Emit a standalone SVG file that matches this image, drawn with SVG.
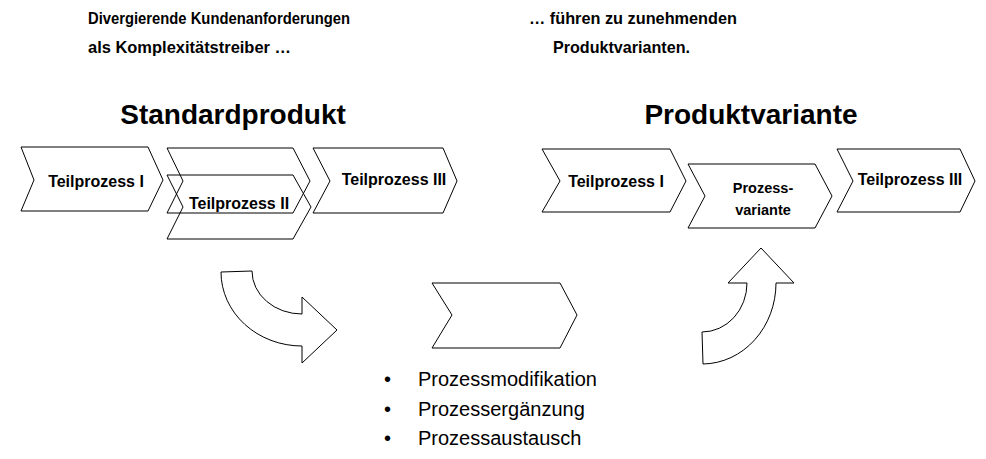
<svg xmlns="http://www.w3.org/2000/svg" width="986" height="459" viewBox="0 0 986 459">
  <style>
    .chev { fill: none; stroke: #000; stroke-width: 1; }
    .arrow { fill: #fff; stroke: #000; stroke-width: 1; }
    .lbl { font-family: "Liberation Sans", Arial, sans-serif; font-weight: bold; font-size: 16px; fill: #000; text-anchor: middle; }
    .lbl-s { font-family: "Liberation Sans", Arial, sans-serif; font-weight: bold; font-size: 14.5px; fill: #000; text-anchor: middle; }
    .cap { font-family: "Liberation Sans", Arial, sans-serif; font-weight: bold; font-size: 17px; fill: #000; }
    .head { font-family: "Liberation Sans", Arial, sans-serif; font-weight: bold; font-size: 28px; fill: #000; text-anchor: middle; }
    .item { font-family: "Liberation Sans", Arial, sans-serif; font-size: 20px; fill: #000; }
  </style>
  <rect width="986" height="459" fill="#fff"/>

  <!-- captions -->
  <g id="caption-left">
    <text class="cap" x="88" y="24" textLength="262" lengthAdjust="spacingAndGlyphs">Divergierende Kundenanforderungen</text>
    <text class="cap" x="88" y="53" textLength="203" lengthAdjust="spacingAndGlyphs">als Komplexitätstreiber …</text>
  </g>
  <g id="caption-right">
    <text class="cap" x="529" y="24" textLength="208" lengthAdjust="spacingAndGlyphs">… führen zu zunehmenden</text>
    <text class="cap" x="553" y="53" textLength="137" lengthAdjust="spacingAndGlyphs">Produktvarianten.</text>
  </g>

  <!-- headings -->
  <text class="head" x="233" y="124">Standardprodukt</text>
  <text class="head" x="751" y="124">Produktvariante</text>

  <!-- standard process chain -->
  <g id="std-teil1">
    <polygon class="chev" points="21,147 148,147 163,180 148,211 21,211 34,180"/>
    <text class="lbl" x="96" y="187">Teilprozess I</text>
  </g>
  <g id="std-teil2-back">
    <polygon class="chev" points="167,148 293,148 310,181 293,213 167,213 183,181"/>
  </g>
  <g id="std-teil2">
    <polygon class="chev" points="167,175 293,175 311,207 293,239 167,239 183,207"/>
    <text class="lbl" x="239" y="209">Teilprozess II</text>
  </g>
  <g id="std-teil3">
    <polygon class="chev" points="313,148 443,148 457,181 443,213 313,213 330,181"/>
    <text class="lbl" x="394" y="185">Teilprozess III</text>
  </g>

  <!-- variant process chain -->
  <g id="var-teil1">
    <polygon class="chev" points="542,149 670,149 686,181 670,212 542,212 560,181"/>
    <text class="lbl" x="616" y="187">Teilprozess I</text>
  </g>
  <g id="var-prozessvariante">
    <polygon class="chev" points="688,164 815,164 832,196 815,228 688,228 705,196"/>
    <text class="lbl-s" x="763" y="193">Prozess-</text>
    <text class="lbl-s" x="763" y="215">variante</text>
  </g>
  <g id="var-teil3">
    <polygon class="chev" points="837,149 960,149 975,181 960,212 837,212 853,181"/>
    <text class="lbl" x="910" y="185">Teilprozess III</text>
  </g>

  <!-- generic process step with change types -->
  <g id="generic-step">
    <polygon class="chev" points="432,283 560,283 577,315 560,348 432,348 452,315"/>
  </g>
  <g id="change-types">
    <text class="item" x="384" y="386">•</text>
    <text class="item" x="418" y="386">Prozessmodifikation</text>
    <text class="item" x="384" y="416">•</text>
    <text class="item" x="418" y="416">Prozessergänzung</text>
    <text class="item" x="384" y="445">•</text>
    <text class="item" x="418" y="445">Prozessaustausch</text>
  </g>

  <!-- curved transition arrows -->
  <g id="connectors">
    <path class="arrow" d="M221,272 L252,271 A50,43 0 0 0 302,314 L302,297 L337,330 L302,363 L302,346 A81,74 0 0 1 221,272 Z"/>
    <path class="arrow" d="M761,248 L794,283 L776,283 A74,81 0 0 1 703,364 L702,332 A45,49 0 0 0 747,283 L728,283 Z"/>
  </g>
</svg>
